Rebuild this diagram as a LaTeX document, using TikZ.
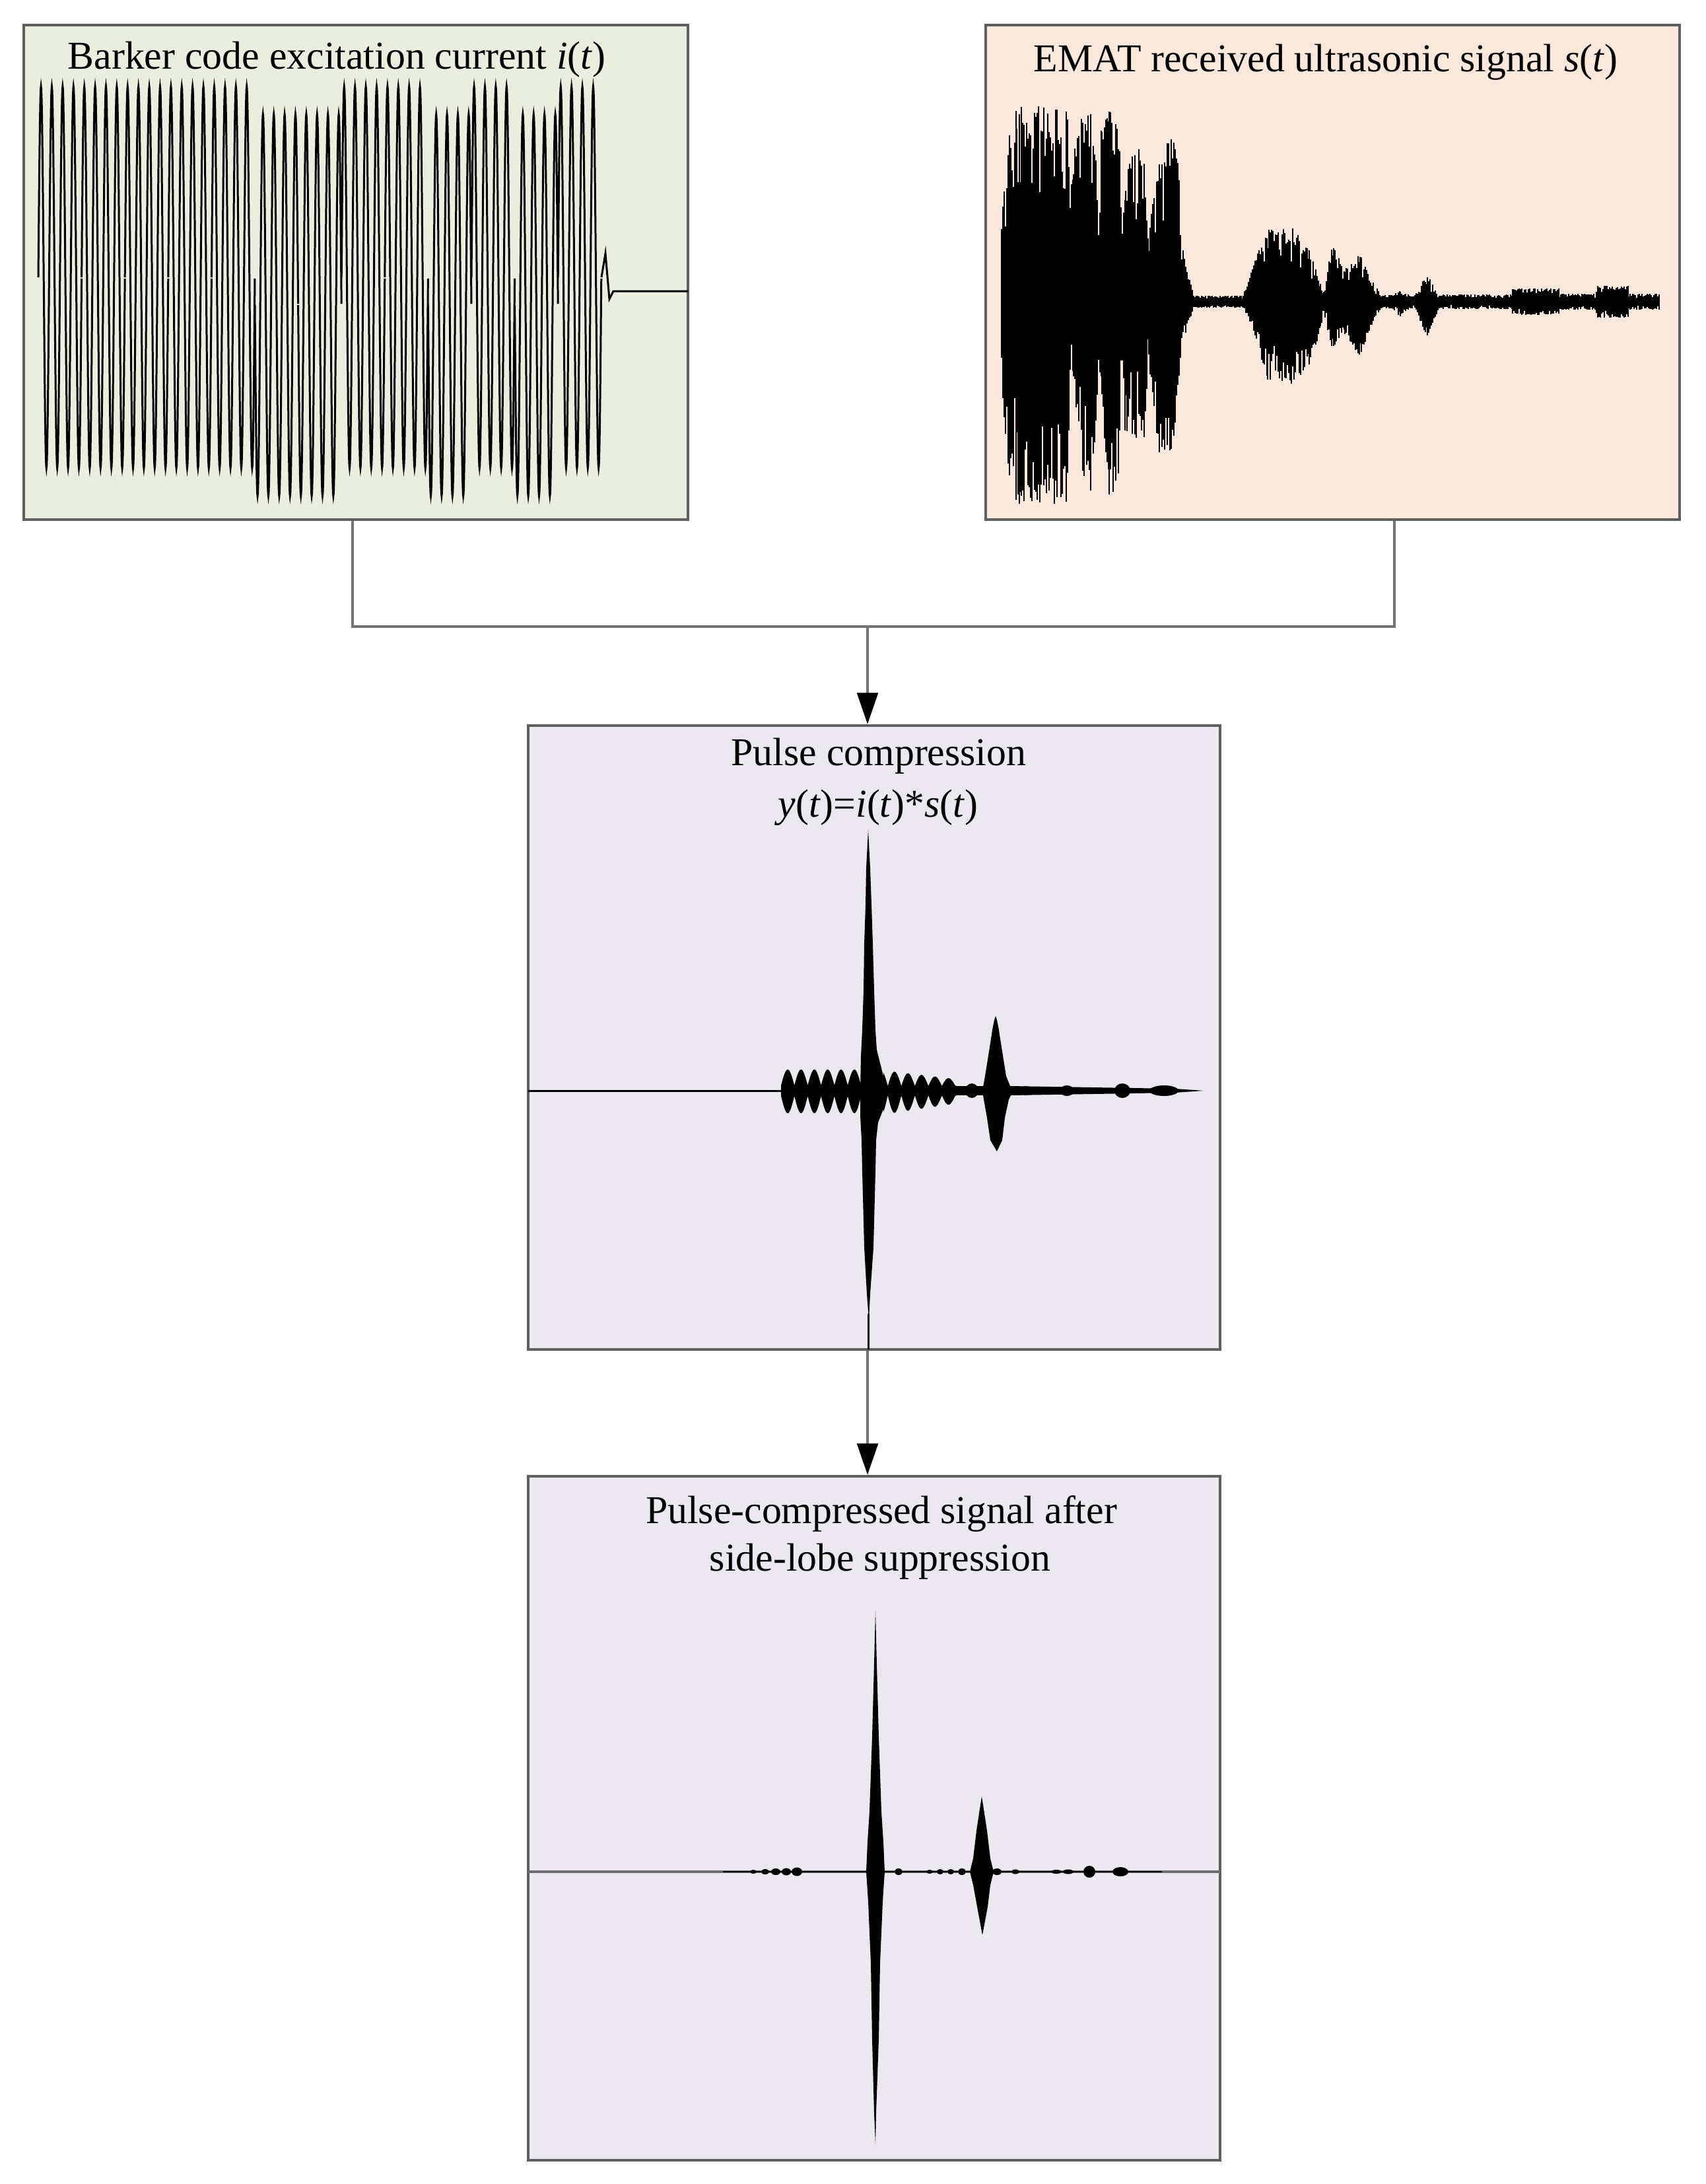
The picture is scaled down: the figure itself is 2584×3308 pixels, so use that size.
\documentclass[tikz,border=0pt]{standalone}
\usepackage{fontspec}
\setmainfont{Liberation Serif}
\usetikzlibrary{arrows.meta}
\definecolor{gbox}{RGB}{233,238,222}
\definecolor{pbox}{RGB}{251,232,220}
\definecolor{lbox}{RGB}{235,232,239}
\definecolor{bord}{RGB}{95,95,95}
\definecolor{conc}{RGB}{115,115,115}
\begin{document}
\begin{tikzpicture}[x=0.01cm,y=-0.01cm,
  panel/.style={draw=bord, line width=1.1pt, inner sep=0pt, rectangle},
  title/.style={font=\fontsize{17}{21}\selectfont, inner sep=0pt, anchor=base},
  conn/.style={draw=conc, line width=1.1pt},
  arr/.style={conn, -{Triangle[length=13.5pt,width=9pt,color=black]}},
  wave/.style={line width=0.85pt, draw=black},
  blob/.style={fill=black}]
\fill[white] (0,0) rectangle (2584,3308);
\useasboundingbox (0,0) rectangle (2584,3308);

% ---------- panels ----------
\node[panel, fill=gbox, minimum width=10.06cm, minimum height=7.49cm] (b1) at (539,412.5) {};
\node[panel, fill=pbox, minimum width=10.51cm, minimum height=7.49cm] (b2) at (2018.5,412.5) {};
\node[panel, fill=lbox, minimum width=10.48cm, minimum height=9.45cm] (b3) at (1324,1571.5) {};
\node[panel, fill=lbox, minimum width=10.48cm, minimum height=10.36cm] (b4) at (1324,2754) {};

% ---------- titles ----------
\node[title] (t1) at (510,104) {Barker code excitation current \textit{i}(\textit{t})};
\node[title] (t2) at (2008,108) {EMAT received ultrasonic signal \textit{s}(\textit{t})};
\node[title] (t3) at (1331,1159) {Pulse compression};
\node[title] (t3b) at (1330,1237) {\textit{y}(\textit{t})=\textit{i}(\textit{t})*\textit{s}(\textit{t})};
\node[title] (t4) at (1335,2307) {Pulse-compressed signal after};
\node[title] (t4b) at (1333,2379) {side-lobe suppression};

% ---------- Barker code excitation current ----------
\foreach \b [count=\k from 0] in {1,1,1,1,1,-1,-1,1,1,-1,1,-1,1}{
  \draw[wave] plot[domain=0:4, samples=161, variable=\t]
    ({58+16.4*(4*\k+\t)}, {441-21*\b-289*\b*sin(360*\t)});
}
\draw[wave] (911,420) -- (917,384) -- (923,453) -- (929,441) -- (1042,441);

% ---------- EMAT received signal ----------
\pgfmathsetseed{12}
\foreach \xa/\xb/\ua/\ub/\da/\db in {
  1517/1527/120/250/120/260, 1527/1540/250/290/260/300, 1540/1547/290/296/300/310,
  1547/1617/296/296/310/310, 1617/1621/296/150/310/110, 1621/1626/150/230/110/120,
  1626/1640/230/290/120/260, 1640/1652/290/310/260/290, 1652/1660/310/250/290/200,
  1660/1664/250/110/200/90, 1664/1669/110/260/90/150, 1669/1680/260/290/150/300,
  1680/1694/290/290/300/290, 1694/1700/290/110/290/90, 1700/1705/110/200/90/200,
  1705/1715/200/228/200/200, 1715/1733/228/240/200/220, 1733/1740/240/110/220/90,
  1740/1746/110/150/90/150, 1746/1756/150/220/150/240, 1756/1776/220/258/240/236,
  1776/1786/258/200/236/120, 1786/1792/200/80/120/60, 1792/1808/80/10/60/10,
  1808/1883/9/9/9/9, 1883/1903/10/68/10/58, 1903/1920/68/110/58/120,
  1920/1960/110/112/120/125, 1960/1983/112/80/125/95, 1983/2000/80/30/95/50,
  2000/2005/30/15/50/15, 2005/2018/15/87/15/72, 2018/2037/87/50/72/50,
  2037/2060/50/72/50/82, 2060/2080/72/30/82/30, 2080/2092/30/10/30/10,
  2092/2108/10/10/10/10, 2108/2121/10/16/10/22, 2121/2135/16/10/22/10,
  2135/2143/10/10/10/10, 2143/2162/10/42/10/52, 2162/2180/42/10/52/10,
  2180/2291/11/11/11/11, 2291/2362/20/20/20/20, 2362/2418/12/12/12/12,
  2418/2467/24/24/24/24, 2467/2513/12/12/12/12}{
  \pgfmathtruncatemacro\nn{(\xb-\xa)/2}
  \foreach \k in {0,...,\nn}{
    \pgfmathsetmacro\xx{\xa+2*\k}
    \pgfmathsetmacro\fr{\k/max(\nn,1)}
    \pgfmathsetmacro\uu{(\ua+(\ub-\ua)*\fr)*(1-0.55*rnd*rnd)}
    \pgfmathsetmacro\dd{(\da+(\db-\da)*\fr)*(1-0.55*rnd*rnd)}
    \draw[line width=0.7pt] (\xx,{457-\uu}) -- (\xx,{457+\dd});
  }
}

% ---------- Pulse compression output ----------
\draw[wave] (800,1652) -- (1184,1652);
\fill[blob] plot[domain=1183:1304, samples=145] (\x,{1652-(8+24*abs(sin(8.9109*(\x-1183))))})
  -- plot[domain=1304:1183, samples=145] (\x,{1652+(8+26*abs(sin(8.9109*(\x-1183))))}) -- cycle;
\fill[blob] plot[domain=1338:1448, samples=133] (\x,{1652-(7+(23-0.12*(\x-1345))*abs(sin(8.7805*(\x-1344.75))))})
  -- plot[domain=1448:1338, samples=133] (\x,{1652+(7+(28-0.15*(\x-1345))*abs(sin(8.7805*(\x-1344.75))))}) -- cycle;
\fill[blob] (1303,1652) -- (1304,1600) -- (1306,1560) -- (1308,1500) -- (1309,1430)
  -- (1311,1370) -- (1312,1315) -- (1315,1257) -- (1318,1315) -- (1320,1370)
  -- (1322,1430) -- (1324,1500) -- (1326,1560) -- (1328,1590) -- (1333,1610)
  -- (1338,1630) -- (1342,1652) -- (1338,1680) -- (1330,1700) -- (1327,1727)
  -- (1326,1774) -- (1323,1889) -- (1318,1960) -- (1316,2000) -- (1313,1960)
  -- (1309,1889) -- (1306,1774) -- (1305,1727) -- (1303,1690) -- cycle;
\draw[wave] (1315,1990) -- (1315,2044);
\fill[blob] (1446,1645) rectangle (1492,1659);
\fill[blob] (1472,1652) ellipse [x radius=0.1cm, y radius=0.11cm];
\fill[blob] (1488,1652) -- (1492,1630) -- (1496,1605) -- (1500,1580) -- (1503,1560)
  -- (1506,1545) -- (1508,1539) -- (1510,1545) -- (1513,1560) -- (1516,1580)
  -- (1520,1605) -- (1524,1630) -- (1530,1645) -- (1535,1652) -- (1528,1665)
  -- (1522,1693) -- (1518,1727) -- (1510,1744) -- (1500,1727) -- (1495,1693)
  -- (1490,1665) -- cycle;
\fill[blob] (1530,1645) -- (1780,1649) -- (1823,1652) -- (1780,1655) -- (1530,1659) -- cycle;
\foreach \xp/\a/\w in {1553/7/9,1616/8/11,1700/11/12,1763/8/22}{
  \fill[blob] (\xp,1652) ellipse [x radius={\w*0.01cm}, y radius={\a*0.01cm}];
}

% ---------- After side-lobe suppression ----------
\draw[draw={rgb,255:red,110;green,110;blue,110}, line width=0.9pt] (800,2835) -- (1848,2835);
\draw[black, line width=0.7pt] (1095,2835) -- (1760,2835);
\foreach \xp/\w/\a in {1141/5/3,1159/6/4,1175/7/5,1191/7/5.5,1207/8/6.5,
  1361/6/5,1408/5/3,1424/5/4,1440/5/4,1457/6/5,1510/7/5,1538/6/3.5,
  1600/8/3,1618/8/3.5,1650/9/9,1697/12/7}{
  \fill[blob] (\xp,2835) ellipse [x radius={\w*0.01cm}, y radius={\a*0.01cm}];
}
\fill[blob] (1312,2835) -- (1314,2790) -- (1317,2744) -- (1321,2630) -- (1324,2520)
  -- (1326,2440) -- (1328,2520) -- (1331,2630) -- (1335,2744) -- (1338,2790)
  -- (1340,2835) -- (1337,2880) -- (1333,2974) -- (1331,3089) -- (1327,3200)
  -- (1326,3248) -- (1324,3200) -- (1321,3089) -- (1319,2974) -- (1315,2880) -- cycle;
\fill[blob] (1469,2835) -- (1474,2815) -- (1479,2773) -- (1484,2740) -- (1487,2721)
  -- (1490,2740) -- (1495,2773) -- (1500,2815) -- (1505,2835) -- (1500,2855)
  -- (1496,2888) -- (1491,2915) -- (1488,2931) -- (1485,2915) -- (1480,2888)
  -- (1474,2855) -- cycle;

% ---------- connectors ----------
\coordinate (j) at (1314,949);
\draw[conn] ([xshift=-0.05cm]b1.south) |- (j) -| ([xshift=0.935cm]b2.south);
\draw[arr] (j) -- (j |- b3.north);
\draw[arr] (j |- b3.south) -- (j |- b4.north);
\end{tikzpicture}
\end{document}
